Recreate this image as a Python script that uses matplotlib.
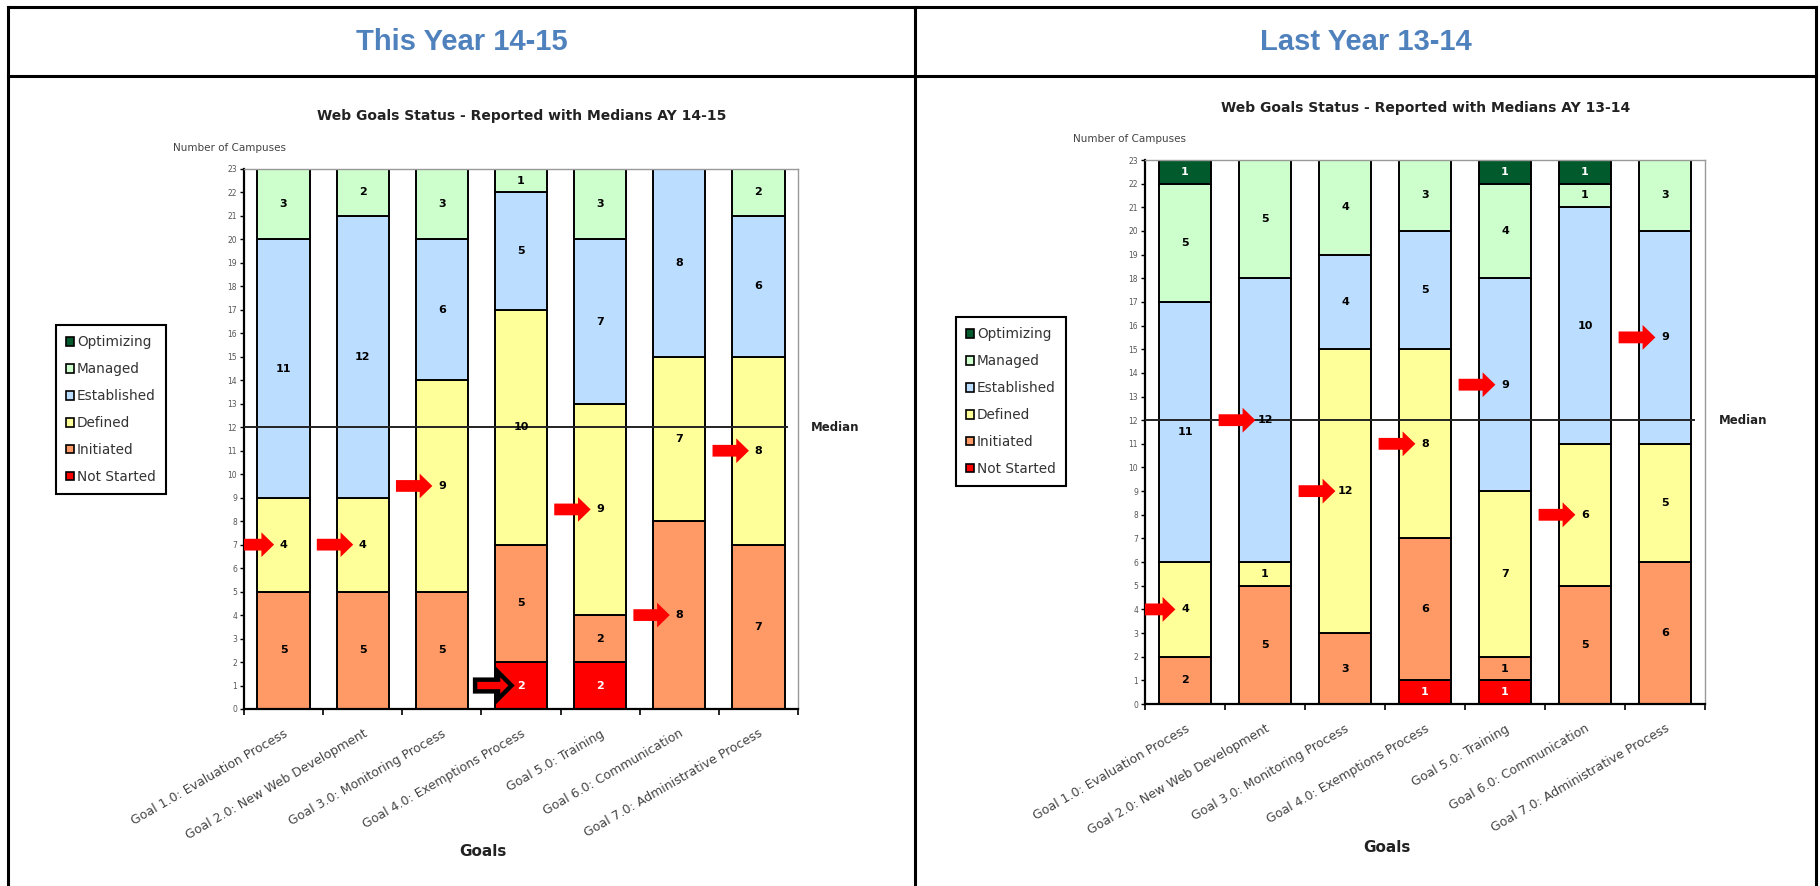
import matplotlib
matplotlib.use("Agg")
import matplotlib.pyplot as plt
from matplotlib.patches import FancyArrow, Patch
from matplotlib.lines import Line2D
import numpy as np

W, H = 1820, 886

goals = ["Goal 1.0: Evaluation Process", "Goal 2.0: New Web Development",
         "Goal 3.0: Monitoring Process", "Goal 4.0: Exemptions Process",
         "Goal 5.0: Training", "Goal 6.0: Communication",
         "Goal 7.0: Administrative Process"]
levels = ["Not Started", "Initiated", "Defined", "Established", "Managed", "Optimizing"]
colors = ["#FF0000", "#FF9966", "#FFFF99", "#BBDDFF", "#CCFFCC", "#005A2B"]
label_colors = ["white", "black", "black", "black", "black", "white"]

# this year 14-15, bottom to top
this_not_started = [0, 0, 0, 2, 2, 0, 0]
this_initiated = [5, 5, 5, 5, 2, 8, 7]
this_defined = [4, 4, 9, 10, 9, 7, 8]
this_established = [11, 12, 6, 5, 7, 8, 6]
this_managed = [3, 2, 3, 1, 3, 0, 2]
this_optimizing = [0, 0, 0, 0, 0, 0, 0]
this_median = 12
this_arrows = ["Defined", "Defined", "Defined", "Not Started", "Defined", "Initiated", "Defined"]
this_outlined = [3]

# last year 13-14
last_not_started = [0, 0, 0, 1, 1, 0, 0]
last_initiated = [2, 5, 3, 6, 1, 5, 6]
last_defined = [4, 1, 12, 8, 7, 6, 5]
last_established = [11, 12, 4, 5, 9, 10, 9]
last_managed = [5, 5, 4, 3, 4, 1, 3]
last_optimizing = [1, 0, 0, 0, 1, 1, 0]
last_median = 12
last_arrows = ["Defined", "Established", "Defined", "Defined", "Established", "Defined", "Established"]
last_outlined = []

fig = plt.figure(figsize=(W / 100, H / 100), dpi=100)


def fx(px):
    return px / W


def fy(py):
    return 1 - py / H


# table frame
lw_tab = 2.2
for (x0, y0, x1, y1) in [(8, 7, 1816, 7), (8, 76, 1816, 76), (8, 7, 8, 886),
                         (915, 7, 915, 886), (1816, 7, 1816, 886)]:
    fig.add_artist(Line2D([fx(x0), fx(x1)], [fy(y0), fy(y1)], color="black", lw=lw_tab))

hfont = dict(family=["Liberation Sans", "DejaVu Sans"], fontweight="bold", fontsize=21, color="#4F81BD")
fig.text(fx(462), fy(42), "This Year 14-15", ha="center", va="center", **hfont)
fig.text(fx(1366), fy(42), "Last Year 13-14", ha="center", va="center", **hfont)


def draw_chart(rect, stacks, median, arrows, outlined, title, title_xy, ncap_xy,
               legend_xy, goals_xy):
    ax = fig.add_axes(rect)
    x = np.arange(len(goals))
    bottom = np.zeros(len(goals))
    mids = {}
    for name, vals, c, lc in zip(levels, stacks, colors, label_colors):
        vals = np.array(vals, dtype=float)
        ax.bar(x, vals, 0.66, bottom=bottom, color=c, edgecolor="black", lw=1.4, zorder=2)
        mids[name] = bottom + vals / 2
        for i, v in enumerate(vals):
            if v > 0:
                ax.text(x[i], bottom[i] + v / 2, f"{int(v)}", ha="center", va="center",
                        fontsize=8, fontweight="bold", color=lc, zorder=5)
        bottom = bottom + vals

    ax.plot([-0.5, 6.36], [median, median], color="#222222", lw=1.4, zorder=4)
    ax.text(1.024, median, "Median", transform=ax.get_yaxis_transform(), ha="left",
            va="center", fontsize=8.5, fontweight="bold", color="#222222")

    for i, name in enumerate(arrows):
        yv = mids[name][i]
        tip = x[i] - 0.12
        if i in outlined:
            arr = FancyArrow(tip - 0.46, yv, 0.46, 0, width=0.5, head_width=1.15,
                             head_length=0.17, length_includes_head=True,
                             fc="#FF0000", ec="black", lw=3.2, zorder=6)
        else:
            arr = FancyArrow(tip - 0.46, yv, 0.46, 0, width=0.5, head_width=1.05,
                             head_length=0.16, length_includes_head=True,
                             fc="#FF0000", ec="none", zorder=6)
        ax.add_patch(arr)

    ax.set_xlim(-0.5, 6.5)
    ax.set_ylim(0, 23)
    ax.set_yticks(range(0, 24))
    ax.tick_params(axis="y", labelsize=5.5, labelcolor="#555555", length=3, width=1,
                   direction="out", pad=2)
    ax.set_xticks(x)
    ax.set_xticklabels(goals, rotation=30, ha="right", rotation_mode="anchor",
                       fontsize=9, color="#444444")
    ax.tick_params(axis="x", length=0, pad=13)
    ax.set_xticks(np.arange(-0.5, 7, 1), minor=True)
    ax.tick_params(axis="x", which="minor", length=4, width=1.2, direction="out")
    for s in ["left", "bottom"]:
        ax.spines[s].set_color("black")
        ax.spines[s].set_linewidth(1.6)
    for s in ["top", "right"]:
        ax.spines[s].set_color("#999999")
        ax.spines[s].set_linewidth(1.0)

    fig.text(fx(title_xy[0]), fy(title_xy[1]), title, ha="center", va="center",
             fontsize=10, fontweight="bold", color="#222222")
    fig.text(fx(ncap_xy[0]), fy(ncap_xy[1]), "Number of Campuses", ha="left", va="center",
             fontsize=7.5, color="#444444")
    fig.text(fx(goals_xy[0]), fy(goals_xy[1]), "Goals", ha="center", va="center",
             fontsize=11, fontweight="bold", color="#222222")

    handles = [Patch(facecolor=c, edgecolor="black", lw=1.2) for c in colors][::-1]
    leg = fig.legend(handles, levels[::-1], loc="upper left",
                     bbox_to_anchor=(fx(legend_xy[0]), fy(legend_xy[1])),
                     fontsize=9.8, handlelength=0.6, handleheight=0.6, handletextpad=0.2,
                     labelspacing=0.95, borderpad=0.75, fancybox=False, framealpha=1,
                     edgecolor="black", borderaxespad=0)
    leg.get_frame().set_linewidth(1.5)
    for t in leg.get_texts():
        t.set_color("#333333")
    return ax


draw_chart([fx(244), fy(709), (798 - 244) / W, (709 - 169) / H],
           [this_not_started, this_initiated, this_defined, this_established,
            this_managed, this_optimizing],
           this_median, this_arrows, this_outlined,
           "Web Goals Status - Reported with Medians AY 14-15", (522, 116), (173, 148),
           (56, 325), (483, 852))

draw_chart([fx(1145), fy(704), (1705 - 1145) / W, (704 - 160) / H],
           [last_not_started, last_initiated, last_defined, last_established,
            last_managed, last_optimizing],
           last_median, last_arrows, last_outlined,
           "Web Goals Status - Reported with Medians AY 13-14", (1426, 108), (1073, 139),
           (956, 317), (1387, 847))

fig.savefig("out.png", dpi=100)
